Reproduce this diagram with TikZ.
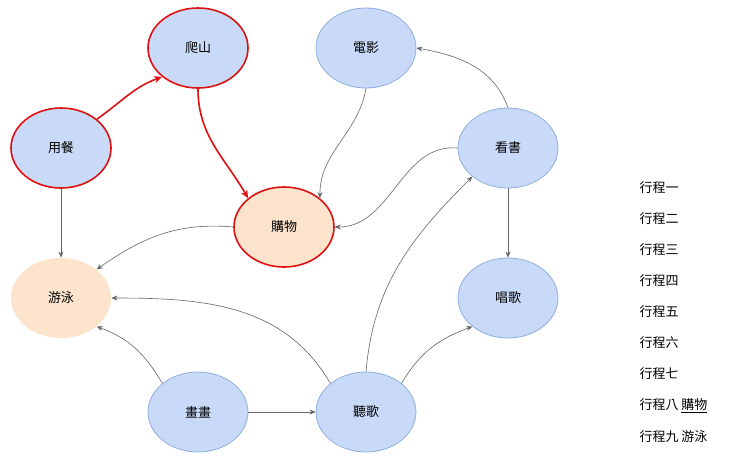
\documentclass[tikz,border=0pt]{standalone}
\usepackage{fontspec}
\setmainfont{Noto Sans CJK TC}
\usetikzlibrary{shapes.geometric,arrows.meta}
\definecolor{bfill}{HTML}{C9DAF8}
\definecolor{bline}{HTML}{8EAEE0}
\definecolor{ofill}{HTML}{FCE3CC}
\definecolor{rline}{HTML}{E01010}
\tikzset{
 nd/.style={ellipse,minimum width=100pt,minimum height=80pt,fill=bfill,draw=bline,line width=0.8pt,font=\fontsize{13}{15}\selectfont},
 hot/.style={draw=rline,line width=1.6pt},
 org/.style={fill=ofill},
 ed/.style={draw=black!60,line width=0.6pt,-{Stealth[length=6pt,width=5pt]}},
 red/.style={draw=rline,line width=1.6pt,-{Stealth[length=8pt,width=7pt]}},
 lg/.style={anchor=west,font=\fontsize{13}{15}\selectfont}
}
\begin{document}
\begin{tikzpicture}[x=1pt,y=-1pt]
\useasboundingbox[fill=white] (0,0) rectangle (740,464);
\node[nd,hot] (pa) at (198,48) {爬山};
\node[nd] (dy) at (366,48) {電影};
\node[nd,hot] (yc) at (61,148) {用餐};
\node[nd] (ks) at (508,148) {看書};
\node[nd,org,hot] (gw) at (284,227) {購物};
\node[nd,org,draw=none] (yy) at (61,298) {游泳};
\node[nd] (cg) at (508,298) {唱歌};
\node[nd] (hh) at (198,412) {畫畫};
\node[nd] (tg) at (366,412) {聽歌};
\draw[red] (yc.north east) to[out=35,in=200] (pa.south west);
\draw[red] (pa.south) to[out=270,in=120] (gw.north west);
\draw[ed] (yc.south) -- (yy.north);
\draw[ed] (gw.west) to[out=175,in=35] (yy.north east);
\draw[ed] (dy.south) to[out=260,in=90] (gw.north east);
\draw[ed] (ks.north) to[out=110,in=-10] (dy.east);
\draw[ed] (ks.west) to[out=175,in=0] (gw.east);
\draw[ed] (ks.south) -- (cg.north);
\draw[ed] (hh.north west) to[out=120,in=-20] (yy.south east);
\draw[ed] (hh.east) -- (tg.west);
\draw[ed] (tg.north west) to[out=120,in=0] (yy.east);
\draw[ed] (tg.north) to[out=85,in=225] (ks.south west);
\draw[ed] (tg.north east) to[out=60,in=200] (cg.south west);
\foreach \t [count=\i] in {行程一,行程二,行程三,行程四,行程五,行程六,行程七} \node[lg] (l\i) at (636,157+31*\i) {\t};
\node[lg] (l8) at (636,406) {行程八 \underline{購物}};
\node[lg] (l9) at (636,437) {行程九 游泳};
\end{tikzpicture}
\end{document}
